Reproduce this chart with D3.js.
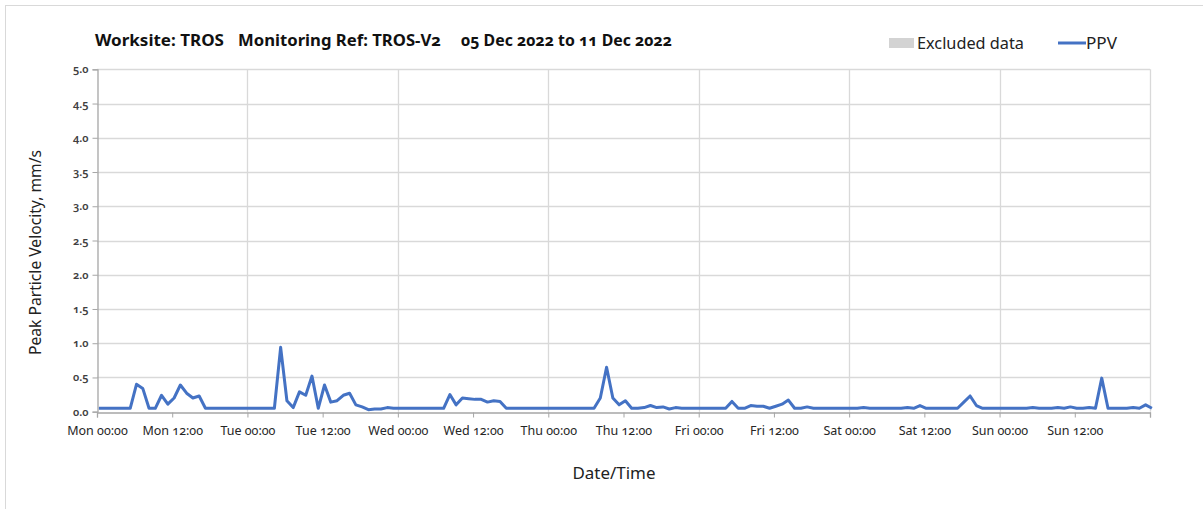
<!DOCTYPE html>
<html>
<head>
<meta charset="utf-8">
<script src="https://cdn.jsdelivr.net/npm/d3@7"></script>
<style>
  html, body { margin: 0; padding: 0; background: #fff; }
  svg { display: block; font-family: "Noto Sans", "Open Sans", sans-serif; }
  .num { font-variant-numeric: oldstyle-nums; }
</style>
</head>
<body>
<svg id="chart" width="1203" height="509"></svg>
<script>
// ---------- Data ----------
const titleParts = ["Worksite: TROS", "Monitoring Ref: TROS-V2", "05 Dec 2022 to 11 Dec 2022"];
const seriesName = "PPV";
const excludedName = "Excluded data";
const yLabel = "Peak Particle Velocity, mm/s";
const xLabel = "Date/Time";
const startDate = "2022-12-05T00:00:00";   // Monday
const firstOffsetHours = 0.3;                // first reading time after start
const stepHours = 1;                         // hourly readings
const yTicks = [0.0, 0.5, 1.0, 1.5, 2.0, 2.5, 3.0, 3.5, 4.0, 4.5, 5.0];
const dayNames = ["Sun", "Mon", "Tue", "Wed", "Thu", "Fri", "Sat"];
// hourly PPV values (mm/s)
const ppv = [
  0.05, 0.05, 0.05, 0.05, 0.05, 0.05, 0.40, 0.34, 0.05, 0.05,   // 0-9
  0.24, 0.11, 0.20, 0.39, 0.27, 0.20, 0.23, 0.05, 0.05, 0.05,   // 10-19
  0.05, 0.05, 0.05, 0.05, 0.05, 0.05, 0.05, 0.05, 0.05, 0.94,   // 20-29
  0.16, 0.06, 0.29, 0.24, 0.52, 0.05, 0.39, 0.14, 0.16, 0.24,   // 30-39
  0.27, 0.10, 0.07, 0.03, 0.04, 0.04, 0.06, 0.05, 0.05, 0.05,   // 40-49
  0.05, 0.05, 0.05, 0.05, 0.05, 0.05, 0.25, 0.10, 0.20, 0.19,   // 50-59
  0.18, 0.18, 0.14, 0.16, 0.15, 0.05, 0.05, 0.05, 0.05, 0.05,   // 60-69
  0.05, 0.05, 0.05, 0.05, 0.05, 0.05, 0.05, 0.05, 0.05, 0.05,   // 70-79
  0.20, 0.65, 0.20, 0.10, 0.16, 0.05, 0.05, 0.06, 0.09, 0.06,   // 80-89
  0.07, 0.04, 0.06, 0.05, 0.05, 0.05, 0.05, 0.05, 0.05, 0.05,   // 90-99
  0.05, 0.15, 0.05, 0.05, 0.09, 0.08, 0.08, 0.05, 0.08, 0.11,   // 100-109
  0.17, 0.05, 0.05, 0.07, 0.05, 0.05, 0.05, 0.05, 0.05, 0.05,   // 110-119
  0.05, 0.05, 0.06, 0.05, 0.05, 0.05, 0.05, 0.05, 0.05, 0.06,   // 120-129
  0.05, 0.09, 0.05, 0.05, 0.05, 0.05, 0.05, 0.05, 0.14, 0.23,   // 130-139
  0.09, 0.05, 0.05, 0.05, 0.05, 0.05, 0.05, 0.05, 0.05, 0.06,   // 140-149
  0.05, 0.05, 0.05, 0.06, 0.05, 0.07, 0.05, 0.05, 0.06, 0.05,   // 150-159
  0.49, 0.05, 0.05, 0.05, 0.05, 0.06, 0.05, 0.10, 0.05          // 160-168
];

// ---------- Layout ----------
const svg = d3.select("#chart");
const plot = { left: 97, right: 1150, top: 69.3, bottom: 411.7 };
const t0 = new Date(startDate);
const HOUR = 3600 * 1000;
const t1 = new Date(t0.getTime() + 7 * 24 * HOUR);

const x = d3.scaleTime().domain([t0, t1]).range([plot.left, plot.right]);
const y = d3.scaleLinear().domain([0, 5]).range([plot.bottom, plot.top]);

const data = ppv.map((v, i) => ({
  t: new Date(t0.getTime() + (firstOffsetHours + i * stepHours) * HOUR),
  v
}));

// outer frame
svg.append("rect")
  .attr("x", 5.5).attr("y", 5.5).attr("width", 1210).attr("height", 520)
  .attr("fill", "none").attr("stroke", "#d9d9d9").attr("stroke-width", 1);

// horizontal gridlines
svg.append("g")
  .selectAll("line").data(yTicks.filter(d => d > 0)).join("line")
  .attr("x1", plot.left).attr("x2", plot.right)
  .attr("y1", d => Math.round(y(d)) + 0.5).attr("y2", d => Math.round(y(d)) + 0.5)
  .attr("stroke", "#d9d9d9").attr("stroke-width", 1.3);

// vertical gridlines at day boundaries
const dayTicks = d3.timeDay.range(new Date(t0.getTime() + HOUR), new Date(t1.getTime() + HOUR));
svg.append("g")
  .selectAll("line").data(dayTicks).join("line")
  .attr("x1", d => Math.round(x(d)) + 0.5).attr("x2", d => Math.round(x(d)) + 0.5)
  .attr("y1", plot.top).attr("y2", plot.bottom)
  .attr("stroke", "#d9d9d9").attr("stroke-width", 1.3);

// y axis
const yAxis = d3.axisLeft(y).tickValues(yTicks).tickFormat(d3.format(".1f")).tickSize(5).tickPadding(4);
const gy = svg.append("g").attr("transform", `translate(${plot.left + 0.5},0)`).call(yAxis);
gy.select(".domain").attr("stroke", "#a6a6a6").attr("stroke-width", 1.3);
gy.selectAll(".tick line").attr("stroke", "#a6a6a6");
gy.selectAll(".tick text")
  .attr("class", "num")
  .attr("fill", "#404040").attr("font-size", 11).attr("font-weight", 600)
  .attr("font-family", "'Noto Sans', sans-serif");

// x axis
const xTicks = d3.timeHour.every(12).range(t0, new Date(t1.getTime() + HOUR));
const fmt = d3.timeFormat("%H:%M");
const xAxis = d3.axisBottom(x).tickValues(xTicks)
  .tickFormat(d => d.getTime() >= t1.getTime() ? "" : dayNames[d.getDay()] + " " + fmt(d))
  .tickSize(5).tickPadding(9);
const gx = svg.append("g").attr("transform", `translate(0,${Math.round(plot.bottom) + 0.5})`).call(xAxis);
gx.select(".domain").attr("stroke", "#a6a6a6").attr("stroke-width", 1.3);
gx.selectAll(".tick line").attr("stroke", "#a6a6a6");
gx.selectAll(".tick text")
  .attr("class", "num")
  .attr("fill", "#262626").attr("font-size", 12.5)
  .attr("font-family", "'Noto Sans', sans-serif");

// series line
const line = d3.line().x(d => x(d.t)).y(d => y(d.v)).curve(d3.curveLinear);
svg.append("path").datum(data)
  .attr("d", line)
  .attr("fill", "none").attr("stroke", "#4472C4")
  .attr("stroke-width", 3).attr("stroke-linejoin", "round");

// title
const titleX = [95, 238, 461];
const titleW = [129, 203, 211];
svg.append("g").selectAll("text").data(titleParts).join("text")
  .attr("class", "num")
  .attr("x", (d, i) => titleX[i]).attr("y", 46)
  .attr("font-size", 16).attr("font-weight", 700).attr("fill", "#111")
  .attr("textLength", (d, i) => titleW[i]).attr("lengthAdjust", "spacingAndGlyphs")
  .text(d => d);

// legend
svg.append("rect").attr("x", 889).attr("y", 38).attr("width", 25).attr("height", 10).attr("fill", "#d3d3d3");
svg.append("text").attr("x", 917).attr("y", 49).attr("font-size", 15.5).attr("fill", "#222")
  .attr("textLength", 107).attr("lengthAdjust", "spacingAndGlyphs").text(excludedName);
svg.append("line").attr("x1", 1058).attr("x2", 1086).attr("y1", 43).attr("y2", 43)
  .attr("stroke", "#4472C4").attr("stroke-width", 3);
svg.append("text").attr("x", 1086).attr("y", 49).attr("font-size", 15.5).attr("fill", "#222")
  .attr("textLength", 31).attr("lengthAdjust", "spacingAndGlyphs").text(seriesName);

// axis titles
svg.append("text")
  .attr("transform", `translate(41,${(plot.top + plot.bottom) / 2 + 12}) rotate(-90)`)
  .attr("text-anchor", "middle").attr("font-size", 15.5).attr("fill", "#222")
  .attr("textLength", 205).attr("lengthAdjust", "spacingAndGlyphs")
  .text(yLabel);
svg.append("text")
  .attr("x", 614).attr("y", 479).attr("text-anchor", "middle")
  .attr("font-size", 16).attr("fill", "#222")
  .attr("textLength", 83).attr("lengthAdjust", "spacingAndGlyphs").text(xLabel);
</script>
</body>
</html>
